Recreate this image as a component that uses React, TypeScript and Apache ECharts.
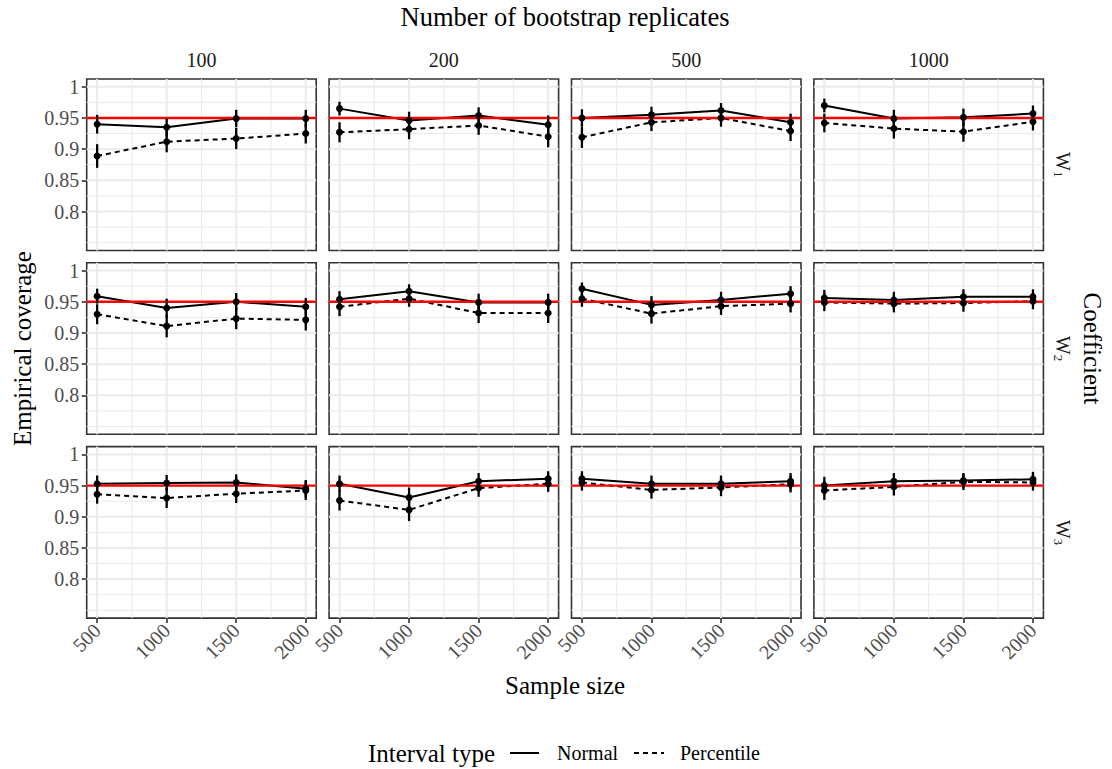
import React, { useEffect, useRef } from "react";
import * as echarts from "echarts";

// ---------- data ----------
const sampleSizes = [500, 1000, 1500, 2000];
const replicateLabels = ["100", "200", "500", "1000"];
const coefficientSubscripts = ["1", "2", "3"];
const yTickValues = [0.8, 0.85, 0.9, 0.95, 1];
const yMajorGrid = [0.8, 0.85, 0.9, 0.95, 1];
const yMinorGrid = [0.75, 0.775, 0.825, 0.875, 0.925, 0.975];
const xMajorGrid = [500, 1000, 1500, 2000];
const xMinorGrid = [750, 1250, 1750];
const nominalCoverage = 0.95;

// each row of a matrix: one number of bootstrap replicates (100, 200, 500, 1000)
// each column: sample size (500, 1000, 1500, 2000)
const normalW1 = [
  [0.940, 0.935, 0.949, 0.949],
  [0.965, 0.946, 0.954, 0.939],
  [0.950, 0.955, 0.962, 0.943],
  [0.970, 0.949, 0.951, 0.957],
];
const percentileW1 = [
  [0.889, 0.912, 0.917, 0.925],
  [0.927, 0.932, 0.938, 0.920],
  [0.919, 0.943, 0.950, 0.929],
  [0.942, 0.933, 0.928, 0.944],
];
const normalW2 = [
  [0.959, 0.940, 0.950, 0.942],
  [0.954, 0.967, 0.949, 0.949],
  [0.971, 0.945, 0.953, 0.963],
  [0.956, 0.953, 0.958, 0.958],
];
const percentileW2 = [
  [0.930, 0.911, 0.923, 0.921],
  [0.942, 0.955, 0.932, 0.932],
  [0.955, 0.931, 0.943, 0.947],
  [0.949, 0.947, 0.948, 0.951],
];
const normalW3 = [
  [0.953, 0.954, 0.955, 0.945],
  [0.953, 0.931, 0.957, 0.961],
  [0.961, 0.953, 0.953, 0.957],
  [0.950, 0.957, 0.958, 0.960],
];
const percentileW3 = [
  [0.936, 0.930, 0.937, 0.942],
  [0.926, 0.911, 0.946, 0.953],
  [0.955, 0.943, 0.947, 0.952],
  [0.942, 0.948, 0.956, 0.955],
];

// half-widths of the vertical interval bars
const normalErrW1 = [
  [0.015, 0.015, 0.014, 0.014],
  [0.011, 0.014, 0.013, 0.015],
  [0.014, 0.013, 0.012, 0.014],
  [0.011, 0.014, 0.014, 0.013],
];
const percentileErrW1 = [
  [0.019, 0.017, 0.017, 0.016],
  [0.016, 0.016, 0.015, 0.017],
  [0.017, 0.014, 0.014, 0.016],
  [0.015, 0.016, 0.016, 0.014],
];
const normalErrW2 = [
  [0.012, 0.015, 0.014, 0.014],
  [0.013, 0.011, 0.014, 0.014],
  [0.010, 0.014, 0.013, 0.012],
  [0.013, 0.013, 0.012, 0.012],
];
const percentileErrW2 = [
  [0.016, 0.018, 0.017, 0.017],
  [0.015, 0.013, 0.016, 0.016],
  [0.013, 0.016, 0.014, 0.014],
  [0.014, 0.014, 0.014, 0.013],
];
const normalErrW3 = [
  [0.013, 0.013, 0.013, 0.014],
  [0.013, 0.016, 0.013, 0.012],
  [0.012, 0.013, 0.013, 0.013],
  [0.014, 0.013, 0.012, 0.012],
];
const percentileErrW3 = [
  [0.015, 0.016, 0.015, 0.015],
  [0.016, 0.018, 0.014, 0.013],
  [0.013, 0.014, 0.014, 0.013],
  [0.015, 0.014, 0.013, 0.013],
];

// ---------- layout / style ----------
const FONT = "Liberation Serif, Times New Roman, serif";
const W = 1112;
const H = 769;
const colLeft = [86.7, 329.1, 571.5, 813.9];
const rowTop = [79, 262.8, 446.6];
const panelW = 229.5;
const panelH = 171.5;
const X_MIN = 425;
const X_MAX = 2075;
const Y_MIN = 0.7375;
const Y_MAX = 1.0125;

function buildOption() {
  const normalRows = [normalW1, normalW2, normalW3];
  const percRows = [percentileW1, percentileW2, percentileW3];
  const normalErrRows = [normalErrW1, normalErrW2, normalErrW3];
  const percErrRows = [percentileErrW1, percentileErrW2, percentileErrW3];

  const grid: any[] = [];
  const xAxis: any[] = [];
  const yAxis: any[] = [];
  const series: any[] = [];

  const gridData = [
    ...yMinorGrid.map((v) => [v, 0, 0]),
    ...xMinorGrid.map((v) => [v, 1, 0]),
    ...yMajorGrid.map((v) => [v, 0, 1]),
    ...xMajorGrid.map((v) => [v, 1, 1]),
  ];

  for (let r = 0; r < 3; r++) {
    for (let c = 0; c < 4; c++) {
      const idx = r * 4 + c;
      grid.push({
        left: colLeft[c],
        top: rowTop[r],
        width: panelW,
        height: panelH,
        show: true,
        borderColor: "#333333",
        borderWidth: 1.6,
        backgroundColor: "#ffffff",
      });
      xAxis.push({
        type: "value",
        gridIndex: idx,
        min: X_MIN,
        max: X_MAX,
        axisLine: { show: false },
        splitLine: { show: false },
        axisTick: {
          show: r === 2,
          customValues: sampleSizes,
          length: 5,
          lineStyle: { color: "#333333", width: 1.6 },
        },
        axisLabel: {
          show: r === 2,
          customValues: sampleSizes,
          formatter: (v: number) => String(v),
          rotate: 45,
          margin: 9,
          color: "#4d4d4d",
          fontFamily: FONT,
          fontSize: 20,
        },
      });
      yAxis.push({
        type: "value",
        gridIndex: idx,
        min: Y_MIN,
        max: Y_MAX,
        axisLine: { show: false },
        splitLine: { show: false },
        axisTick: {
          show: c === 0,
          customValues: yTickValues,
          length: 5,
          lineStyle: { color: "#333333", width: 1.6 },
        },
        axisLabel: {
          show: c === 0,
          customValues: yTickValues,
          formatter: (v: number) => String(v),
          margin: 7.5,
          color: "#4d4d4d",
          fontFamily: FONT,
          fontSize: 20,
        },
      });

      // grid lines
      series.push({
        type: "custom",
        xAxisIndex: idx,
        yAxisIndex: idx,
        silent: true,
        clip: false,
        z: 1,
        data: gridData,
        renderItem: (params: any, api: any) => {
          const cs = params.coordSys;
          const v = api.value(0);
          const vertical = api.value(1) === 1;
          const major = api.value(2) === 1;
          const style = { stroke: "#ebebeb", lineWidth: major ? 2 : 1 };
          if (vertical) {
            const px = api.coord([v, 0.9])[0];
            return { type: "line", shape: { x1: px, y1: cs.y, x2: px, y2: cs.y + cs.height }, style };
          }
          const py = api.coord([1000, v])[1];
          return { type: "line", shape: { x1: cs.x, y1: py, x2: cs.x + cs.width, y2: py }, style };
        },
      });

      const nVals = normalRows[r][c];
      const pVals = percRows[r][c];
      const nErr = normalErrRows[r][c];
      const pErr = percErrRows[r][c];

      series.push({
        name: "Normal",
        type: "line",
        xAxisIndex: idx,
        yAxisIndex: idx,
        silent: true,
        z: 2,
        symbol: "none",
        showSymbol: false,
        lineStyle: { color: "#000000", width: 2, type: "solid" },
        data: sampleSizes.map((n, i) => [n, nVals[i]]),
      });
      series.push({
        name: "Percentile",
        type: "line",
        xAxisIndex: idx,
        yAxisIndex: idx,
        silent: true,
        z: 2,
        symbol: "none",
        showSymbol: false,
        lineStyle: { color: "#000000", width: 2, type: [5, 4] },
        data: sampleSizes.map((n, i) => [n, pVals[i]]),
      });

      // nominal coverage line
      series.push({
        type: "custom",
        xAxisIndex: idx,
        yAxisIndex: idx,
        silent: true,
        clip: false,
        z: 3,
        data: [[nominalCoverage]],
        renderItem: (params: any, api: any) => {
          const cs = params.coordSys;
          const py = api.coord([1000, api.value(0)])[1];
          return {
            type: "line",
            shape: { x1: cs.x, y1: py, x2: cs.x + cs.width, y2: py },
            style: { stroke: "#ff0000", lineWidth: 2.4 },
          };
        },
      });

      const pointRange = (vals: number[], errs: number[]) => ({
        type: "custom",
        xAxisIndex: idx,
        yAxisIndex: idx,
        silent: true,
        clip: false,
        z: 4,
        data: sampleSizes.map((n, i) => [n, vals[i], errs[i]]),
        renderItem: (params: any, api: any) => {
          const x = api.value(0);
          const v = api.value(1);
          const e = api.value(2);
          const top = api.coord([x, v + e]);
          const bot = api.coord([x, v - e]);
          const ctr = api.coord([x, v]);
          return {
            type: "group",
            children: [
              { type: "line", shape: { x1: top[0], y1: top[1], x2: bot[0], y2: bot[1] }, style: { stroke: "#000000", lineWidth: 2.3 } },
              { type: "circle", shape: { cx: ctr[0], cy: ctr[1], r: 3.5 }, style: { fill: "#000000" } },
            ],
          };
        },
      });
      series.push(pointRange(nVals, nErr));
      series.push(pointRange(pVals, pErr));
    }
  }

  const graphic: any[] = [];
  // top title
  graphic.push({
    type: "text",
    x: colLeft[0] + (colLeft[3] + panelW - colLeft[0]) / 2,
    y: 17,
    style: { text: "Number of bootstrap replicates", font: `26.5px ${FONT}`, fill: "#000000", align: "center", verticalAlign: "middle" },
  });
  // column strips
  replicateLabels.forEach((lab, c) => {
    graphic.push({
      type: "text",
      x: colLeft[c] + panelW / 2,
      y: 60,
      style: { text: lab, font: `20px ${FONT}`, fill: "#1a1a1a", align: "center", verticalAlign: "middle" },
    });
  });
  // row strips
  coefficientSubscripts.forEach((sub, r) => {
    graphic.push({
      type: "text",
      x: 1063,
      y: rowTop[r] + panelH / 2,
      rotation: -Math.PI / 2,
      style: {
        text: `{w|W}{s|${sub}}`,
        align: "center",
        verticalAlign: "middle",
        rich: {
          w: { font: `20px ${FONT}`, fill: "#1a1a1a", lineHeight: 22, verticalAlign: "middle" },
          s: { font: `13px ${FONT}`, fill: "#1a1a1a", lineHeight: 22, verticalAlign: "bottom", padding: [10, 0, 0, 0] },
        },
      },
    });
  });
  // right title
  graphic.push({
    type: "text",
    x: 1092,
    y: rowTop[1] + panelH / 2,
    rotation: -Math.PI / 2,
    style: { text: "Coefficient", font: `25px ${FONT}`, fill: "#000000", align: "center", verticalAlign: "middle" },
  });
  // left title
  graphic.push({
    type: "text",
    x: 22,
    y: rowTop[1] + panelH / 2,
    rotation: Math.PI / 2,
    style: { text: "Empirical coverage", font: `25px ${FONT}`, fill: "#000000", align: "center", verticalAlign: "middle" },
  });
  // bottom title
  graphic.push({
    type: "text",
    x: colLeft[0] + (colLeft[3] + panelW - colLeft[0]) / 2,
    y: 685,
    style: { text: "Sample size", font: `25px ${FONT}`, fill: "#000000", align: "center", verticalAlign: "middle" },
  });
  // legend
  const ly = 753;
  graphic.push({
    type: "text",
    x: 368,
    y: ly,
    style: { text: "Interval type", font: `25px ${FONT}`, fill: "#000000", align: "left", verticalAlign: "middle" },
  });
  graphic.push({ type: "line", shape: { x1: 510, y1: ly, x2: 539, y2: ly }, style: { stroke: "#000000", lineWidth: 2 } });
  graphic.push({
    type: "text",
    x: 557,
    y: ly,
    style: { text: "Normal", font: `20px ${FONT}`, fill: "#000000", align: "left", verticalAlign: "middle" },
  });
  graphic.push({ type: "line", shape: { x1: 634, y1: ly, x2: 664, y2: ly }, style: { stroke: "#000000", lineWidth: 2, lineDash: [5, 4] } });
  graphic.push({
    type: "text",
    x: 680,
    y: ly,
    style: { text: "Percentile", font: `20px ${FONT}`, fill: "#000000", align: "left", verticalAlign: "middle" },
  });

  return {
    animation: false,
    backgroundColor: "#ffffff",
    textStyle: { fontFamily: FONT },
    grid,
    xAxis,
    yAxis,
    series,
    graphic,
  };
}

export default function App() {
  const ref = useRef<HTMLDivElement>(null);
  useEffect(() => {
    document.body.style.margin = "0";
    if (!ref.current) return;
    const chart = echarts.init(ref.current, null, { renderer: "svg", width: W, height: H });
    chart.setOption(buildOption() as any);
    return () => {
      chart.dispose();
    };
  }, []);
  return <div ref={ref} style={{ width: W, height: H, position: "absolute", left: 0, top: 0 }} />;
}
